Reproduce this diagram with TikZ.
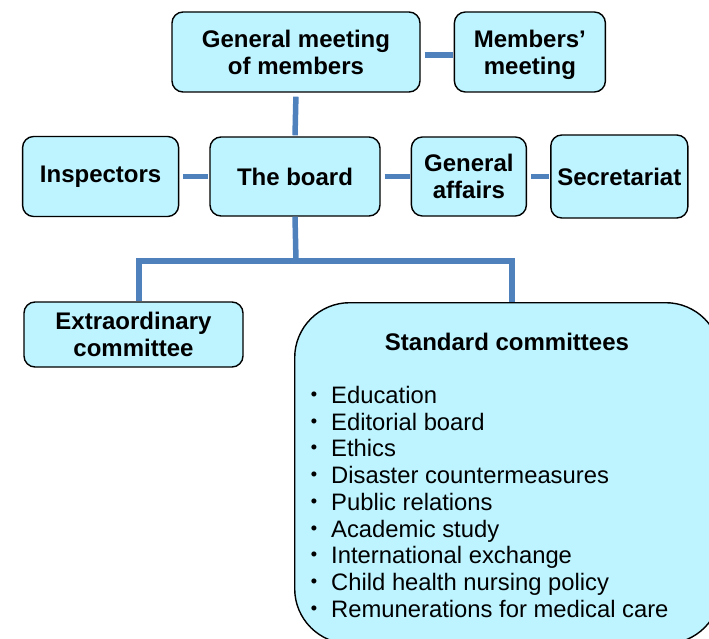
\documentclass[tikz,border=0pt]{standalone}
\usepackage{fontspec}
\setmainfont{Liberation Sans}
\newfontfamily\cjkfont{Noto Sans CJK JP}
\usepackage{tikz}
\usetikzlibrary{positioning}

\definecolor{boxfill}{RGB}{189,244,255}
\definecolor{linkblue}{RGB}{79,129,189}

\newcommand{\itemdot}{\makebox[29pt][l]{\cjkfont ・}}

\begin{document}
\begin{tikzpicture}[x=1pt,y=-1pt,
    unit/.style={draw=black,line width=1.4pt,fill=boxfill,rounded corners=11pt,
                 inner sep=0pt,align=center,font=\fontsize{24}{27}\selectfont\bfseries},
    link/.style={draw=linkblue,line width=5.5pt,shorten <=4pt,shorten >=1pt}]
  \useasboundingbox (0,0) rectangle (709,639);
  \clip (0,0) rectangle (709,639);

  \node[unit,minimum width=248pt,minimum height=80pt] (gm) at (296,52) {General meeting\\of members};
  \node[unit,minimum width=151pt,minimum height=80pt,right=33pt of gm] (mm) {Members’\\\smash{meeting}};
  \node[unit,minimum width=170pt,minimum height=79pt] (board) at (295,176.5) {The board};
  \node[unit,minimum width=156pt,minimum height=80pt,left=30pt of board] (insp) {Inspectors};
  \node[unit,minimum width=115pt,minimum height=79pt,right=30pt of board] (ga) {General\\affairs};
  \node[unit,minimum width=137pt,minimum height=83pt,right=23pt of ga] (sec) {Secretariat};
  \node[unit,minimum width=219pt,minimum height=65pt] (extra) at (133.5,334.5) {Extraordinary\\committee};
  \node[unit,rounded corners=55pt,minimum width=426pt,minimum height=341pt,anchor=north west] (std) at (294,302) {};
  \node[font=\fontsize{24}{27}\selectfont\bfseries] (stdtitle) at (507,342) {Standard committees};
  \node[anchor=north west,inner sep=0pt,align=left,
        font=\fontsize{23.8}{26.75}\selectfont] (stdlist) at (302,386)
    {\itemdot Education\\
     \itemdot Editorial board\\
     \itemdot Ethics\\
     \itemdot Disaster countermeasures\\
     \itemdot Public relations\\
     \itemdot Academic study\\
     \itemdot International exchange\\
     \itemdot Child health nursing policy\\
     \itemdot Remunerations for medical care};

  \coordinate (split) at (296,261);
  \coordinate (lft) at (139,261);
  \coordinate (rgt) at (512,261);

  \path[link] ([yshift=-3pt]gm.east) -- ([yshift=-3pt]mm.west);
  \path[link] (gm.south) -- (board.north);
  \path[link] (insp.east) -- (board.west);
  \path[link] (board.east) -- (ga.west);
  \path[link] (ga.east) -- (sec.west);
  \path[link,shorten <=0pt,shorten >=0pt] (board.south) -- (split);
  \path[link,shorten <=0pt,shorten >=0pt,line join=miter]
    (lft |- extra.north) -- (lft) -- (rgt) -- (rgt |- std.north);
\end{tikzpicture}
\end{document}
